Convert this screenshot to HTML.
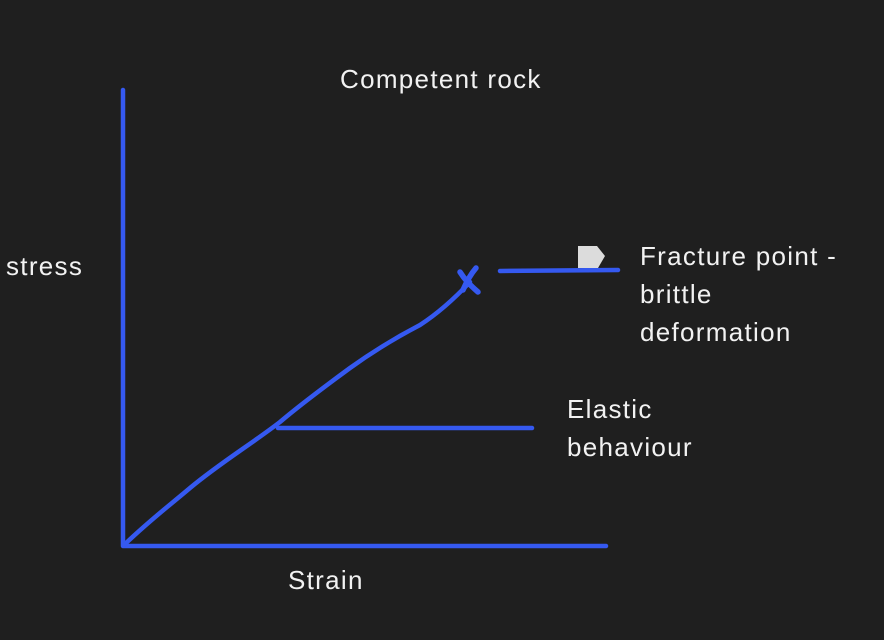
<!DOCTYPE html>
<html><head><style>
body{margin:0;background:#1f1f1f;width:884px;height:640px;overflow:hidden;font-family:"Liberation Sans",sans-serif;}
svg{position:absolute;left:0;top:0}
.t{position:absolute;color:#f2f2f2;font-size:26px;line-height:38px;letter-spacing:1.3px;}
</style></head><body>
<svg width="884" height="640">
<g fill="none" stroke="#3559f0" stroke-width="4.5" stroke-linecap="round" stroke-linejoin="round">
<path d="M123 90 L123 546 L606 546"/>
<path d="M124 545 C150 520 170 505 190 488 C220 463 250 445 280 422 C300 405 320 390 350 368 C375 350 395 338 420 325 C440 312 455 298 470 282"/>
<path d="M460 272 C465 280 470 285 478 292" stroke-width="5.5"/>
<path d="M476 268 C470 275 466 283 463 290" stroke-width="5.5"/>
<path d="M500 271 L618 270"/>
<path d="M278 428 L532 428"/>
</g>
<path d="M578 246 L597 246 L605 256 L598 268 L578 268 Z" fill="#dcdcdc"/>
</svg>
<div class="t" style="left:340px;top:60px">Competent rock</div>
<div class="t" style="left:6px;top:247px">stress</div>
<div class="t" style="left:640px;top:237px">Fracture point -<br>brittle<br>deformation</div>
<div class="t" style="left:567px;top:390px">Elastic<br>behaviour</div>
<div class="t" style="left:288px;top:561px">Strain</div>
</body></html>
